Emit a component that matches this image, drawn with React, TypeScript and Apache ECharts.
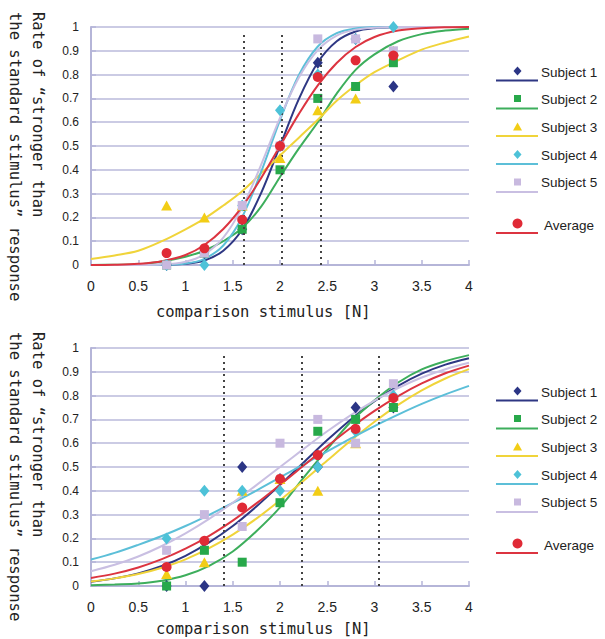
import React, { useEffect, useRef } from "react";
import * as echarts from "echarts";

// ---------- data ----------
const seriesNames = ["Subject 1", "Subject 2", "Subject 3", "Subject 4", "Subject 5", "Average"];
const pointX = [0.8, 1.2, 1.6, 2.0, 2.4, 2.8, 3.2];

// top chart
const topCurveX = [0, 0.25, 0.5, 0.75, 1, 1.2, 1.4, 1.6, 1.8, 2, 2.2, 2.4, 2.6, 2.8, 3, 3.25, 3.5, 3.75, 4];
const topCurveS1 = [0, 0, 0, 0.001, 0.005, 0.019, 0.06, 0.149, 0.302, 0.5, 0.698, 0.851, 0.94, 0.981, 0.995, 0.999, 1, 1, 1];
const topCurveS2 = [0, 0.001, 0.003, 0.015, 0.035, 0.06, 0.1, 0.155, 0.245, 0.37, 0.49, 0.6, 0.72, 0.82, 0.885, 0.94, 0.97, 0.985, 0.993];
const topCurveS3 = [0.025, 0.04, 0.06, 0.1, 0.15, 0.195, 0.25, 0.31, 0.385, 0.46, 0.535, 0.61, 0.69, 0.755, 0.81, 0.86, 0.905, 0.935, 0.96];
const topCurveS4 = [0, 0, 0, 0.001, 0.006, 0.026, 0.082, 0.202, 0.391, 0.609, 0.798, 0.918, 0.974, 0.994, 0.999, 1, 1, 1, 1];
const topCurveS5 = [0, 0, 0, 0.002, 0.014, 0.045, 0.115, 0.242, 0.421, 0.618, 0.788, 0.903, 0.964, 0.989, 0.997, 1, 1, 1, 1];
const topCurveAvg = [0, 0.001, 0.005, 0.016, 0.042, 0.084, 0.151, 0.245, 0.365, 0.5, 0.635, 0.755, 0.849, 0.916, 0.958, 0.985, 0.995, 0.999, 1];

const topPointsS1 = [0, 0.05, 0.15, 0.5, 0.85, 0.95, 0.75];
const topPointsS2 = [0, 0.05, 0.15, 0.4, 0.7, 0.75, 0.85];
const topPointsS3 = [0.25, 0.2, 0.25, 0.45, 0.65, 0.7, 0.9];
const topPointsS4 = [0, 0, 0.25, 0.65, 0.8, 0.95, 1.0];
const topPointsS5 = [0, 0.05, 0.25, 0.5, 0.95, 0.95, 0.9];
const topPointsAvg = [0.05, 0.07, 0.19, 0.5, 0.79, 0.86, 0.88];
const topThresholds = [1.62, 2.02, 2.43];

// bottom chart
const bottomCurveX = [0, 0.25, 0.5, 0.75, 1, 1.25, 1.5, 1.75, 2, 2.25, 2.5, 2.75, 3, 3.25, 3.5, 3.75, 4];
const bottomCurveS1 = [0.018, 0.032, 0.053, 0.084, 0.127, 0.183, 0.252, 0.334, 0.425, 0.519, 0.613, 0.7, 0.777, 0.841, 0.892, 0.93, 0.957];
const bottomCurveS2 = [0.003, 0.006, 0.01, 0.022, 0.045, 0.085, 0.145, 0.23, 0.33, 0.455, 0.575, 0.69, 0.78, 0.855, 0.91, 0.945, 0.97];
const bottomCurveS3 = [0.019, 0.032, 0.05, 0.077, 0.112, 0.159, 0.216, 0.283, 0.36, 0.442, 0.527, 0.611, 0.69, 0.761, 0.822, 0.872, 0.911];
const bottomCurveS4 = [0.111, 0.139, 0.173, 0.21, 0.252, 0.299, 0.349, 0.401, 0.456, 0.511, 0.566, 0.62, 0.672, 0.72, 0.765, 0.805, 0.841];
const bottomCurveS5 = [0.062, 0.089, 0.124, 0.168, 0.221, 0.282, 0.35, 0.424, 0.5, 0.576, 0.65, 0.718, 0.779, 0.832, 0.876, 0.911, 0.938];
const bottomCurveAvg = [0.034, 0.052, 0.078, 0.113, 0.157, 0.211, 0.275, 0.347, 0.425, 0.506, 0.587, 0.665, 0.736, 0.798, 0.851, 0.894, 0.926];

const bottomPointsS1 = [0, 0, 0.5, 0.45, 0.5, 0.75, 0.75];
const bottomPointsS2 = [0, 0.15, 0.1, 0.35, 0.65, 0.7, 0.75];
const bottomPointsS3 = [0.05, 0.1, 0.4, 0.45, 0.4, 0.6, 0.8];
const bottomPointsS4 = [0.2, 0.4, 0.4, 0.4, 0.5, 0.65, 0.8];
const bottomPointsS5 = [0.15, 0.3, 0.25, 0.6, 0.7, 0.6, 0.85];
const bottomPointsAvg = [0.08, 0.19, 0.33, 0.45, 0.55, 0.66, 0.79];
const bottomThresholds = [1.41, 2.23, 3.05];

const xTitle = "comparison stimulus [N]";
const yTitleLine1 = "Rate of \u201cstronger than";
const yTitleLine2 = "the standard stimulus\u201d response";

// ---------- styles ----------
const markerColors = ["#2b3585", "#27a84a", "#f2cd16", "#4dc2d8", "#c8b9df", "#e02a36"];
const lineColors = ["#2e3783", "#3dae5c", "#f0d43a", "#5cbfd8", "#c9bfe2", "#dc3440"];
const symbols = ["diamond", "rect", "triangle", "diamond", "rect", "circle"];
const symbolSizes: any[] = [[10, 12], 9, [11, 10], [10, 12], 9, 10];
const sansFont = "'Liberation Sans', Arial, sans-serif";
const monoFont = "'DejaVu Sans Mono', monospace";

function legendGraphics(offsetY: number) {
  const markerY = [71, 98.5, 127, 154.5, 182, 223.5];
  const lineY = [80.5, 108.5, 136, 164, 192, 233];
  const textY = [72, 99.5, 127, 155, 182.5, 225];
  const els: any[] = [];
  for (let i = 0; i < 6; i++) {
    const cx = 517.5;
    const cy = markerY[i] + offsetY;
    els.push({
      type: "line",
      silent: true,
      shape: { x1: 496, y1: lineY[i] + offsetY, x2: 538, y2: lineY[i] + offsetY },
      style: { stroke: lineColors[i], lineWidth: 2 },
    });
    const fill = markerColors[i];
    if (symbols[i] === "diamond") {
      els.push({ type: "polygon", silent: true, shape: { points: [[cx, cy - 4.5], [cx + 4, cy], [cx, cy + 4.5], [cx - 4, cy]] }, style: { fill } });
    } else if (symbols[i] === "rect") {
      els.push({ type: "rect", silent: true, shape: { x: cx - 3.5, y: cy - 3.5, width: 7, height: 7 }, style: { fill } });
    } else if (symbols[i] === "triangle") {
      els.push({ type: "polygon", silent: true, shape: { points: [[cx, cy - 4.5], [cx + 4.5, cy + 3.5], [cx - 4.5, cy + 3.5]] }, style: { fill } });
    } else {
      els.push({ type: "circle", silent: true, shape: { cx, cy, r: 5 }, style: { fill } });
    }
    els.push({
      type: "text",
      silent: true,
      x: i === 5 ? 544 : 541,
      y: textY[i] + offsetY,
      style: { text: seriesNames[i], fill: "#222", font: `13.5px ${sansFont}`, align: "left", verticalAlign: "middle" },
    });
  }
  return els;
}

function titleGraphics(offsetY: number) {
  return [
    {
      type: "text",
      silent: true,
      x: 38,
      y: 12 + offsetY,
      rotation: -Math.PI / 2,
      style: { text: yTitleLine1, fill: "#222", font: `15.5px ${monoFont}`, align: "left", verticalAlign: "middle" },
    },
    {
      type: "text",
      silent: true,
      x: 15,
      y: 12 + offsetY,
      rotation: -Math.PI / 2,
      style: { text: yTitleLine2, fill: "#222", font: `15.5px ${monoFont}`, align: "left", verticalAlign: "middle" },
    },
    {
      type: "text",
      silent: true,
      x: 156,
      y: (offsetY ? 629 : 311.5),
      style: { text: xTitle, fill: "#222", font: `15.5px ${monoFont}`, align: "left", verticalAlign: "middle" },
    },
  ];
}

function pairs(xs: number[], ys: number[]) {
  return xs.map((x, i) => [x, ys[i]]);
}

function buildSeries(gridIdx: number, curveX: number[], curves: number[][], points: number[][], thresholds: number[]) {
  const out: any[] = [];
  curves.forEach((c, i) => {
    out.push({
      type: "line",
      name: seriesNames[i],
      xAxisIndex: gridIdx,
      yAxisIndex: gridIdx,
      data: pairs(curveX, c),
      showSymbol: false,
      smooth: 0.35,
      lineStyle: { color: lineColors[i], width: 2 },
      itemStyle: { color: lineColors[i] },
      z: 2,
      silent: true,
      markLine:
        i === 5
          ? {
              silent: true,
              symbol: ["none", "none"],
              label: { show: false },
              lineStyle: { type: [2, 4], color: "#444", width: 2 },
              data: thresholds.map((t) => [{ coord: [t, 0] }, { coord: [t, 0.98] }]),
            }
          : undefined,
    });
  });
  points.forEach((p, i) => {
    out.push({
      type: "scatter",
      name: seriesNames[i],
      xAxisIndex: gridIdx,
      yAxisIndex: gridIdx,
      data: pairs(pointX, p),
      symbol: symbols[i],
      symbolSize: symbolSizes[i],
      itemStyle: { color: markerColors[i], opacity: 1 },
      z: 3 + i,
      silent: true,
    });
  });
  return out;
}

function xAxisCfg(gridIndex: number) {
  return {
    gridIndex,
    type: "value",
    min: 0,
    max: 4,
    interval: 0.5,
    axisLine: { show: true, onZero: false, lineStyle: { color: "#b5b5d8", width: 2 } },
    axisTick: { show: true, inside: true, length: 5, lineStyle: { color: "#b5b5d8", width: 1.5 } },
    axisLabel: { margin: 14, fontSize: 14, color: "#222", fontFamily: sansFont },
    splitLine: { show: false },
  };
}

function yAxisCfg(gridIndex: number) {
  return {
    gridIndex,
    type: "value",
    min: 0,
    max: 1,
    interval: 0.1,
    axisLine: { show: true, lineStyle: { color: "#b5b5d8", width: 2 } },
    axisTick: { show: true, inside: true, length: 5, lineStyle: { color: "#b5b5d8", width: 1.5 } },
    axisLabel: {
      margin: 12,
      fontSize: 12,
      color: "#222",
      fontFamily: sansFont,
      formatter: (v: number) => String(Math.round(v * 10) / 10),
    },
    splitLine: { show: true, lineStyle: { color: "#cbcbe4", width: 2 } },
  };
}

export default function App() {
  const ref = useRef<HTMLDivElement>(null);
  useEffect(() => {
    if (!ref.current) return;
    const chart = echarts.init(ref.current, null, { renderer: "svg" });
    const option: any = {
      animation: false,
      backgroundColor: "#ffffff",
      grid: [
        { left: 91, top: 27, width: 378, height: 238 },
        { left: 91, top: 348, width: 378, height: 238 },
      ],
      xAxis: [xAxisCfg(0), xAxisCfg(1)],
      yAxis: [yAxisCfg(0), yAxisCfg(1)],
      series: [
        ...buildSeries(
          0,
          topCurveX,
          [topCurveS1, topCurveS2, topCurveS3, topCurveS4, topCurveS5, topCurveAvg],
          [topPointsS1, topPointsS2, topPointsS3, topPointsS4, topPointsS5, topPointsAvg],
          topThresholds
        ),
        ...buildSeries(
          1,
          bottomCurveX,
          [bottomCurveS1, bottomCurveS2, bottomCurveS3, bottomCurveS4, bottomCurveS5, bottomCurveAvg],
          [bottomPointsS1, bottomPointsS2, bottomPointsS3, bottomPointsS4, bottomPointsS5, bottomPointsAvg],
          bottomThresholds
        ),
      ],
      graphic: { elements: [...titleGraphics(0), ...titleGraphics(320), ...legendGraphics(0), ...legendGraphics(320)] },
    };
    chart.setOption(option);
    return () => chart.dispose();
  }, []);
  return <div ref={ref} style={{ position: "absolute", left: 0, top: 0, width: 605, height: 639 }} />;
}
